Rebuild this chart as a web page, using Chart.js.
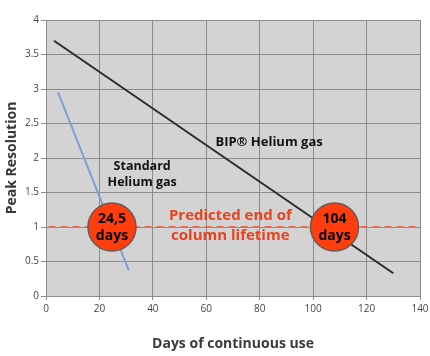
<!DOCTYPE html>
<html><head><meta charset="utf-8">
<script src="https://cdn.jsdelivr.net/npm/chart.js@4/dist/chart.umd.min.js"></script>
<style>html,body{margin:0;padding:0;background:#fff}#wrap{width:430px;height:356px}</style>
</head><body><div id="wrap"><canvas id="c" width="430" height="356"></canvas></div>
<script>
// Data
const bipDays = [3, 130];
const bipResolution = [3.7, 0.33];
const standardDays = [4.5, 31];
const standardResolution = [2.95, 0.37];
const thresholdDays = [1, 140];
const thresholdResolution = [1, 1];
const lifetimeDays = [24.7, 108];
const lifetimeLabels = [["24,5", "days"], ["104", "days"]];
const xTicks = [0, 20, 40, 60, 80, 100, 120, 140];
const yTicks = [0, 0.5, 1, 1.5, 2, 2.5, 3, 3.5, 4];

const FONT = "'Open Sans', 'Noto Sans', sans-serif";

const annotations = [
  {lines: ["Standard", "Helium gas"], x: 36, y: [1.88, 1.64], color: "#111", size: 12.5},
  {lines: ["BIP® Helium gas"], x: 83.5, y: [2.23], color: "#111", size: 13},
  {lines: ["Predicted end of", "column lifetime"], x: 69, y: [1.17, 0.88], color: "#ea421c", size: 15}
];

const bgPlugin = {
  id: 'bg',
  beforeDraw(chart) {
    const {ctx, chartArea: a} = chart;
    ctx.save();
    ctx.fillStyle = '#d3d3d3';
    ctx.fillRect(a.left, a.top, a.right - a.left, a.bottom - a.top);
    ctx.restore();
  }
};
const textPlugin = {
  id: 'texts',
  afterDatasetsDraw(chart) {
    const {ctx, scales: {x, y}} = chart;
    ctx.save();
    ctx.textAlign = 'center';
    ctx.textBaseline = 'middle';
    annotations.forEach(a => {
      ctx.fillStyle = a.color;
      ctx.font = `bold ${a.size}px ${FONT}`;
      a.lines.forEach((t, i) => ctx.fillText(t, x.getPixelForValue(a.x), y.getPixelForValue(a.y[i])));
    });
    ctx.fillStyle = '#000';
    ctx.font = `bold 14px ${FONT}`;
    lifetimeDays.forEach((d, i) => {
      const px = x.getPixelForValue(d), py = y.getPixelForValue(1);
      ctx.fillText(lifetimeLabels[i][0], px, py - 8);
      ctx.fillText(lifetimeLabels[i][1], px, py + 9);
    });
    ctx.restore();
  }
};

new Chart(document.getElementById('c'), {
  type: 'scatter',
  data: {
    datasets: [
      {type: 'bubble', data: lifetimeDays.map(d => ({x: d, y: 1, r: 24})), backgroundColor: '#ff3d0d', borderColor: '#6a5a55', borderWidth: 1.5, order: 0, clip: false},
      {type: 'line', data: bipDays.map((d, i) => ({x: d, y: bipResolution[i]})), borderColor: '#2b2b2b', borderWidth: 2, pointRadius: 0, order: 1},
      {type: 'line', data: standardDays.map((d, i) => ({x: d, y: standardResolution[i]})), borderColor: '#7f9fd0', borderWidth: 2, pointRadius: 0, order: 2},
      {type: 'line', data: thresholdDays.map((d, i) => ({x: d, y: thresholdResolution[i]})), borderColor: '#f0664a', borderWidth: 2, borderDash: [7, 5], pointRadius: 0, order: 3}
    ]
  },
  options: {
    responsive: false,
    animation: false,
    events: [],
    layout: {autoPadding: false, padding: {top: 20, right: 10, left: 0, bottom: 0}},
    plugins: {legend: {display: false}, tooltip: {enabled: false}},
    scales: {
      x: {
        type: 'linear', min: 0, max: 140,
        afterBuildTicks(s) { s.ticks = xTicks.map(v => ({value: v})); },
        afterFit(s) { s.height = 60; s.paddingRight = 0; s.paddingLeft = 0; },
        grid: {color: '#8c8c8c', lineWidth: 1, tickLength: 4},
        border: {color: '#8c8c8c'},
        ticks: {color: '#444', font: {family: FONT, size: 10}, padding: 3, maxRotation: 0},
        title: {display: true, text: 'Days of continuous use', color: '#3a3a3a', font: {family: FONT, size: 14, weight: 'bold'}, padding: {top: 5}}
      },
      y: {
        type: 'linear', min: 0, max: 4,
        afterBuildTicks(s) { s.ticks = yTicks.map(v => ({value: v})); },
        afterFit(s) { s.width = 46; s.paddingTop = 0; s.paddingBottom = 0; },
        grid: {color: '#8c8c8c', lineWidth: 1, tickLength: 5},
        border: {color: '#8c8c8c'},
        ticks: {color: '#444', font: {family: FONT, size: 10}, padding: 2, callback: v => String(v)},
        title: {display: true, text: 'Peak Resolution', color: '#3a3a3a', font: {family: FONT, size: 14, weight: 'bold'}, padding: {bottom: 2}}
      }
    }
  },
  plugins: [bgPlugin, textPlugin]
});
</script></body></html>
